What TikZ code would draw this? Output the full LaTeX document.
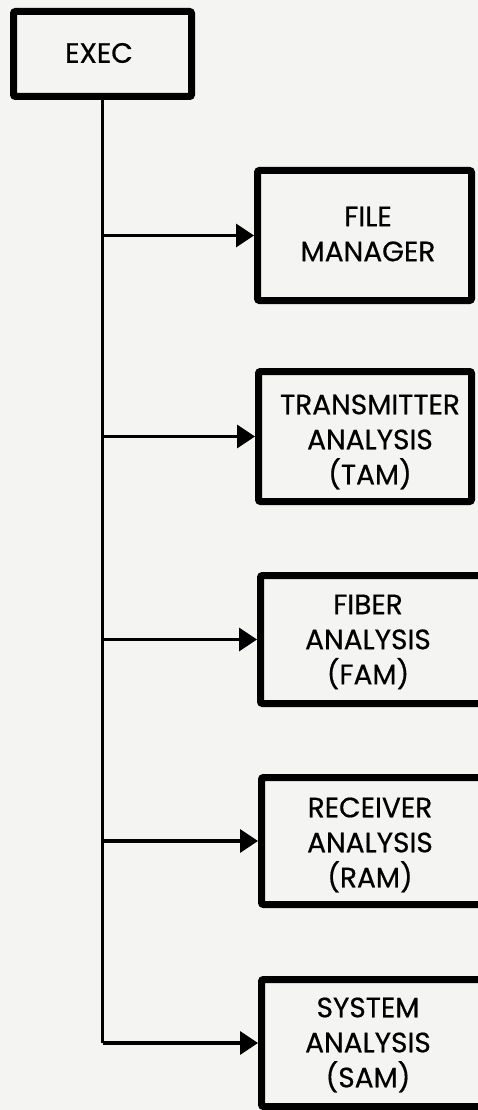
\documentclass[tikz,border=0pt]{standalone}
\usepackage{fontspec}
\setmainfont{Poppins}[FakeBold=0.6]
\usetikzlibrary{arrows.meta}
\definecolor{paper}{HTML}{F4F4F2}
\tikzset{
  box/.style={draw=black, line width=7pt, rounded corners=2pt, fill=none, inner sep=0pt},
  lbl/.style={align=center, font=\fontsize{28}{35}\selectfont, inner sep=0pt},
  conn/.style={line width=3.5pt, -{Triangle[length=18pt,width=23pt]}},
  trunk/.style={line width=3.5pt}
}
\begin{document}
\begin{tikzpicture}[x=1pt,y=-1pt]
\fill[paper] (0,0) rectangle (478,1110);
\useasboundingbox (0,0) rectangle (478,1110);
\clip (0,0) rectangle (478,1110);
% EXEC
\node[box, minimum width=178pt, minimum height=85pt] (exec) at (102.5,54) {};
\node[lbl] (exect) at (99,53) {EXEC};
% FILE MANAGER
\node[box, minimum width=214pt, minimum height=130pt] (fm) at (364.5,235.5) {};
\node[lbl] (fmt) at (368,234) {FILE\\MANAGER};
% TAM
\node[box, minimum width=213pt, minimum height=130pt] (tam) at (365,436.5) {};
\node[lbl] (tamt) at (370,442) {TRANSMITTER\\ANALYSIS\\(TAM)};
% FAM
\node[box, minimum width=240pt, minimum height=128pt, anchor=west] (fam) at (257,639.5) {};
\node[lbl] (famt) at (368,642) {FIBER\\ANALYSIS\\(FAM)};
% RAM
\node[box, minimum width=240pt, minimum height=127pt, anchor=west] (ram) at (258,841) {};
\node[lbl] (ramt) at (370,845) {RECEIVER\\ANALYSIS\\(RAM)};
% SAM
\node[box, minimum width=240pt, minimum height=127pt, anchor=west] (sam) at (258,1043) {};
\node[lbl] (samt) at (368,1045) {SYSTEM\\ANALYSIS\\(SAM)};
% connectors
\coordinate (corner) at (exec.south |- sam.west);
\draw[trunk] (exec.south) -- (corner);
\draw[conn] (corner) -- (sam.west);
\draw[conn] (exec.south |- fm.west) -- (fm.west);
\draw[conn] (exec.south |- tam.west) -- (tam.west);
\draw[conn] (exec.south |- fam.west) -- (fam.west);
\draw[conn] (exec.south |- ram.west) -- (ram.west);
\end{tikzpicture}
\end{document}
